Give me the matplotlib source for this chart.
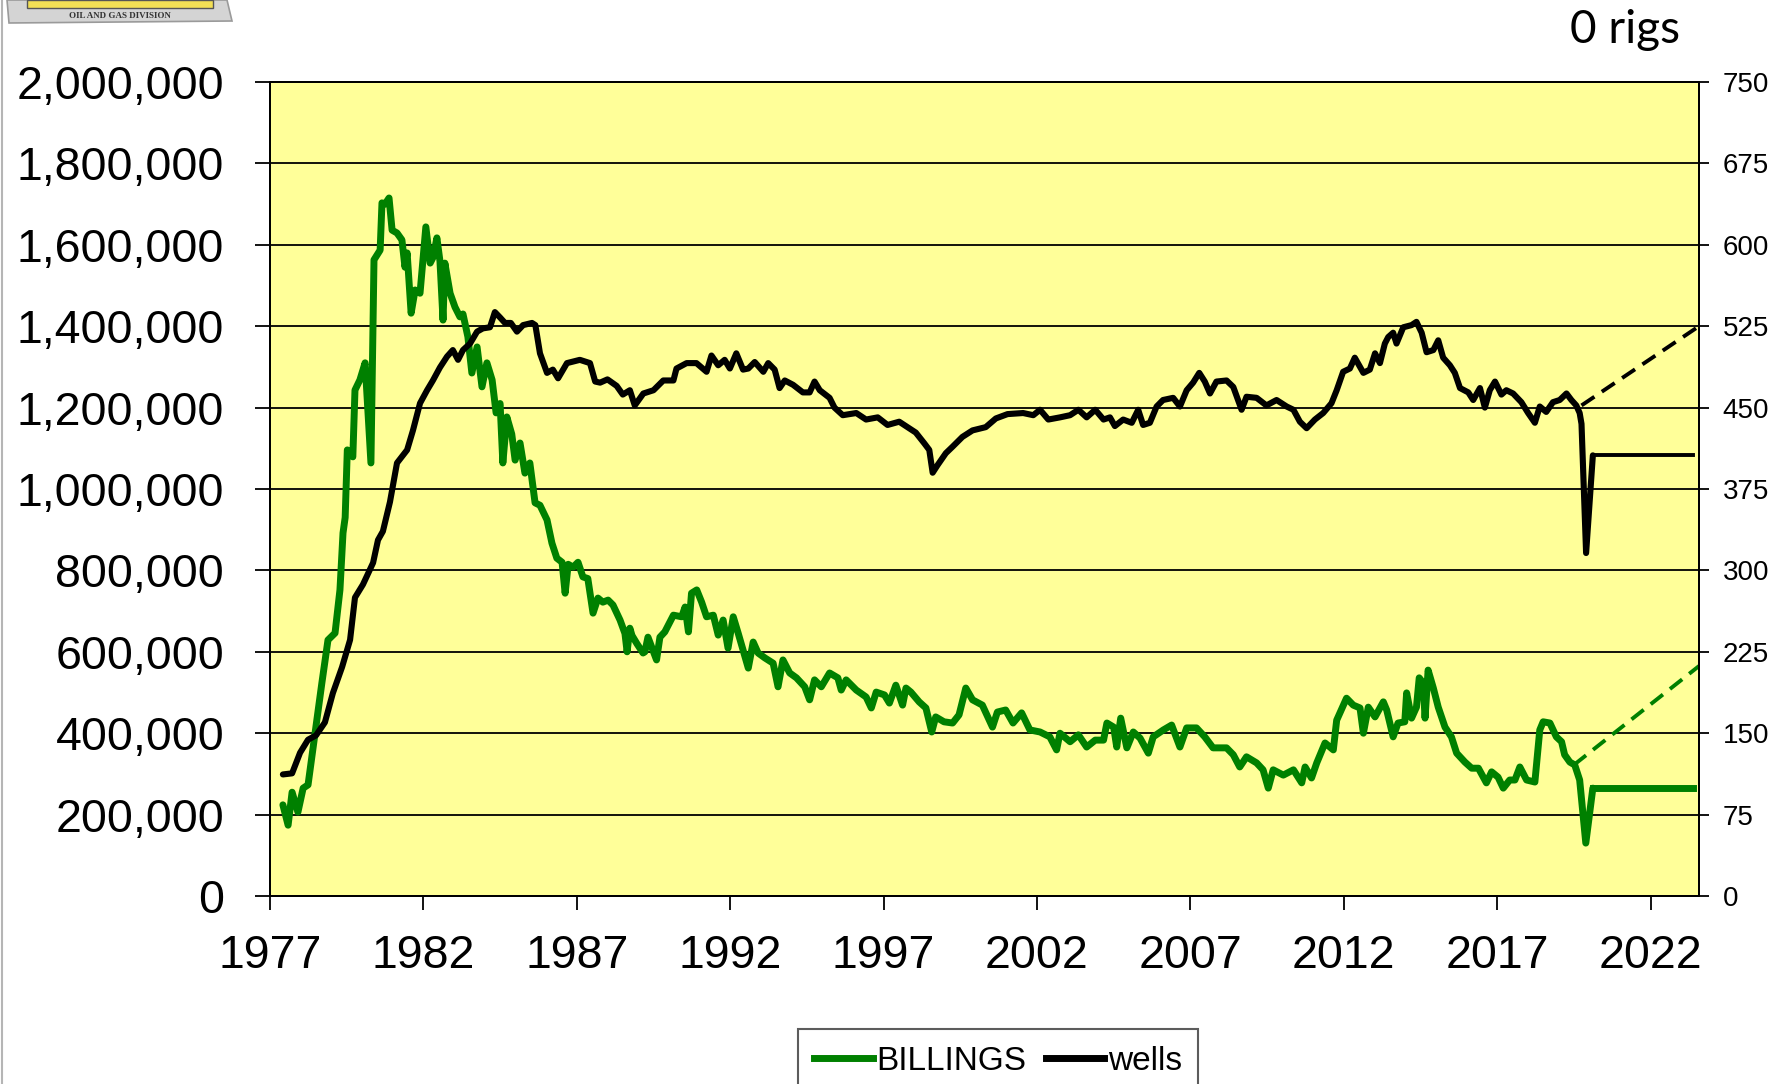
import matplotlib
matplotlib.use('Agg')
import matplotlib.pyplot as plt
from matplotlib.ticker import FuncFormatter, MultipleLocator
from matplotlib.patches import Polygon, Rectangle
from matplotlib.lines import Line2D

# monthly billings (thousands)
bill_years = [1977.42, 1977.59, 1977.72, 1977.91, 1978.08, 1978.24, 1978.47, 1978.69, 1978.89, 1979.12,
              1979.28, 1979.38, 1979.45, 1979.52, 1979.70, 1979.77, 1979.93, 1980.10, 1980.29, 1980.39,
              1980.59, 1980.65, 1980.75, 1980.88, 1980.98, 1981.14, 1981.30, 1981.40, 1981.47, 1981.60,
              1981.73, 1981.89, 1982.08, 1982.22, 1982.32, 1982.44, 1982.54, 1982.64, 1982.70, 1982.87,
              1983.03, 1983.19, 1983.29, 1983.45, 1983.58, 1983.75, 1983.91, 1984.07, 1984.24, 1984.37,
              1984.50, 1984.59, 1984.72, 1984.88, 1984.99, 1985.15, 1985.31, 1985.47, 1985.64, 1985.80,
              1986.03, 1986.19, 1986.35, 1986.52, 1986.62, 1986.72, 1986.88, 1987.04, 1987.20, 1987.36,
              1987.53, 1987.69, 1987.85, 1988.02, 1988.18, 1988.41, 1988.57, 1988.64, 1988.73, 1988.80,
              1988.96, 1989.16, 1989.22, 1989.32, 1989.45, 1989.60, 1989.71, 1989.87, 1990.15, 1990.42,
              1990.53, 1990.64, 1990.74, 1990.91, 1991.07, 1991.23, 1991.45, 1991.61, 1991.77, 1991.93,
              1992.10, 1992.26, 1992.42, 1992.59, 1992.75, 1992.91, 1993.13, 1993.40, 1993.56, 1993.72,
              1993.94, 1994.16, 1994.43, 1994.59, 1994.75, 1994.97, 1995.24, 1995.51, 1995.62, 1995.78,
              1996.11, 1996.43, 1996.60, 1996.76, 1997.03, 1997.19, 1997.40, 1997.62, 1997.73, 1997.89,
              1998.16, 1998.38, 1998.57, 1998.70, 1998.97, 1999.25, 1999.46, 1999.68, 1999.90, 2000.22,
              2000.55, 2000.71, 2000.98, 2001.22, 2001.50, 2001.77, 2002.10, 2002.42, 2002.64, 2002.75,
              2003.08, 2003.35, 2003.62, 2003.90, 2004.17, 2004.28, 2004.50, 2004.60, 2004.73, 2004.93,
              2005.14, 2005.36, 2005.63, 2005.79, 2006.12, 2006.39, 2006.66, 2006.88, 2007.20, 2007.47,
              2007.74, 2008.18, 2008.40, 2008.61, 2008.83, 2009.16, 2009.37, 2009.54, 2009.70, 2010.03,
              2010.36, 2010.63, 2010.74, 2010.95, 2011.12, 2011.39, 2011.66, 2011.77, 2012.09, 2012.31,
              2012.53, 2012.64, 2012.80, 2013.02, 2013.29, 2013.40, 2013.61, 2013.77, 2013.99, 2014.05,
              2014.21, 2014.37, 2014.46, 2014.59, 2014.65, 2014.75, 2014.92, 2015.08, 2015.30, 2015.51,
              2015.68, 2015.95, 2016.17, 2016.39, 2016.65, 2016.82, 2017.03, 2017.20, 2017.41, 2017.58,
              2017.74, 2017.96, 2018.23, 2018.39, 2018.50, 2018.72, 2018.93, 2019.10, 2019.20, 2019.37,
              2019.53, 2019.69, 2019.89, 2020.12]
bill_k = [224, 174, 255, 206, 265, 273, 400, 523, 629, 646,
          752, 892, 930, 1096, 1079, 1243, 1268, 1310, 1064, 1563,
          1587, 1703, 1700, 1715, 1636, 1629, 1612, 1545, 1580, 1432,
          1489, 1481, 1644, 1555, 1570, 1617, 1560, 1415, 1555, 1481,
          1447, 1423, 1430, 1374, 1285, 1349, 1251, 1310, 1268, 1187,
          1210, 1064, 1177, 1135, 1071, 1113, 1039, 1064, 966, 960,
          924, 867, 830, 820, 744, 815, 808, 820, 784, 780,
          695, 732, 722, 727, 715, 678, 645, 600, 658, 640,
          620, 597, 600, 636, 610, 580, 636, 649, 690, 686,
          710, 649, 744, 752, 722, 686, 690, 641, 678, 609,
          686, 646, 604, 560, 624, 597, 585, 572, 514, 580,
          548, 536, 514, 482, 531, 514, 548, 536, 506, 531,
          506, 489, 462, 501, 494, 474, 518, 469, 511, 501,
          477, 462, 403, 440, 428, 425, 445, 511, 482, 469,
          415, 452, 457, 425, 450, 408, 403, 391, 359, 400,
          379, 396, 366, 383, 383, 425, 415, 366, 437, 364,
          403, 388, 351, 391, 408, 420, 366, 413, 413, 391,
          364, 364, 347, 317, 342, 327, 310, 265, 310, 297,
          310, 278, 317, 290, 327, 376, 359, 432, 486, 469,
          462, 400, 464, 440, 477, 457, 391, 425, 428, 499,
          437, 464, 536, 523, 437, 555, 511, 464, 415, 391,
          351, 329, 314, 314, 278, 305, 292, 265, 285, 285,
          317, 285, 280, 408, 428, 425, 391, 379, 347, 329,
          322, 285, 130, 265]

# producing wells, right axis
well_years = [1977.42, 1977.72, 1977.98, 1978.24, 1978.50, 1978.79, 1979.05, 1979.35, 1979.61, 1979.77,
              1980.03, 1980.36, 1980.52, 1980.68, 1980.91, 1981.14, 1981.47, 1981.66, 1981.89, 1982.12,
              1982.31, 1982.54, 1982.77, 1982.96, 1983.13, 1983.29, 1983.52, 1983.75, 1983.94, 1984.17,
              1984.33, 1984.50, 1984.66, 1984.85, 1985.05, 1985.25, 1985.54, 1985.65, 1985.80, 1986.03,
              1986.22, 1986.39, 1986.68, 1987.10, 1987.43, 1987.60, 1987.76, 1988.00, 1988.30, 1988.50,
              1988.73, 1988.89, 1989.17, 1989.50, 1989.82, 1990.15, 1990.25, 1990.58, 1990.90, 1991.23,
              1991.39, 1991.61, 1991.82, 1991.99, 1992.20, 1992.42, 1992.59, 1992.80, 1993.08, 1993.24,
              1993.45, 1993.61, 1993.78, 1994.05, 1994.37, 1994.59, 1994.75, 1994.92, 1995.24, 1995.40,
              1995.67, 1996.11, 1996.43, 1996.81, 1997.13, 1997.51, 1997.78, 1998.05, 1998.33, 1998.49,
              1998.60, 1998.76, 1999.03, 1999.25, 1999.57, 1999.90, 2000.33, 2000.66, 2001.04, 2001.55,
              2001.88, 2002.10, 2002.37, 2002.75, 2003.08, 2003.35, 2003.62, 2003.90, 2004.17, 2004.38,
              2004.54, 2004.81, 2005.09, 2005.30, 2005.46, 2005.68, 2005.90, 2006.11, 2006.44, 2006.66,
              2006.88, 2007.09, 2007.29, 2007.47, 2007.64, 2007.85, 2008.18, 2008.40, 2008.67, 2008.83,
              2009.16, 2009.48, 2009.81, 2010.14, 2010.36, 2010.57, 2010.79, 2011.06, 2011.33, 2011.60,
              2011.77, 2011.98, 2012.20, 2012.36, 2012.64, 2012.85, 2013.02, 2013.18, 2013.34, 2013.45,
              2013.61, 2013.72, 2013.94, 2014.21, 2014.37, 2014.54, 2014.70, 2014.92, 2015.08, 2015.24,
              2015.46, 2015.62, 2015.79, 2016.06, 2016.22, 2016.44, 2016.60, 2016.76, 2016.93, 2017.14,
              2017.30, 2017.52, 2017.79, 2018.01, 2018.23, 2018.39, 2018.60, 2018.82, 2019.04, 2019.26,
              2019.42, 2019.58, 2019.69, 2019.75, 2019.90, 2020.12]
wells = [112, 113, 132, 144, 148, 160, 187, 211, 236, 275,
         287, 307, 328, 336, 363, 399, 411, 429, 454, 466,
         475, 487, 497, 503, 494, 503, 509, 520, 523, 524,
         538, 533, 528, 528, 520, 526, 528, 526, 500, 482,
         485, 477, 491, 494, 491, 474, 473, 476, 470, 462,
         466, 452, 463, 466, 475, 475, 486, 491, 491, 483,
         498, 489, 494, 486, 500, 485, 486, 492, 483, 491,
         485, 468, 475, 471, 464, 464, 474, 466, 459, 450,
         443, 445, 439, 441, 434, 437, 432, 427, 417, 411,
         390, 397, 408, 414, 423, 429, 432, 440, 444, 445,
         443, 448, 439, 441, 443, 448, 441, 448, 439, 441,
         433, 439, 436, 448, 434, 436, 451, 457, 459, 451,
         466, 473, 482, 474, 463, 474, 475, 469, 448, 460,
         459, 452, 457, 451, 448, 437, 431, 439, 445, 454,
         466, 483, 486, 496, 482, 485, 500, 491, 509, 515,
         519, 509, 524, 526, 529, 519, 501, 503, 512, 496,
         489, 482, 468, 464, 457, 468, 450, 466, 474, 462,
         466, 463, 455, 445, 436, 451, 446, 455, 457, 463,
         457, 452, 445, 435, 316, 406]

# latest level held flat to the end of the chart
latest_years = [2020.12, 2023.40]
bill_latest_k = [265, 265]
wells_latest = [406, 406]

# dashed trend lines
proj_bill_years = [2019.50, 2023.58]
proj_bill_k = [322, 565]
proj_well_years = [2019.75, 2023.58]
proj_wells = [452, 525]

x_ticks = list(range(1977, 2023, 5))

font = 'Liberation Sans'
plt.rcParams['font.family'] = [font, 'DejaVu Sans']

W, H = 1783, 1084
fig = plt.figure(figsize=(W / 100, H / 100), dpi=100)
fig.patch.set_facecolor('white')

ax = fig.add_axes([270 / W, 188 / H, 1429 / W, 814 / H])
ax.set_facecolor('#FFFF99')
ax.set_xlim(1977, 2023.58)
ax.set_ylim(0, 2000000)
ax.set_xticks(x_ticks)
ax.yaxis.set_major_locator(MultipleLocator(200000))
ax.yaxis.set_major_formatter(FuncFormatter(lambda v, p: f'{v:,.0f}'))
ax.grid(axis='y', color='black', lw=1.3)
ax.set_axisbelow(True)
ax.tick_params(axis='y', direction='out', length=11, width=1.3, pad=22, labelsize=33.5)
ax.tick_params(axis='x', direction='out', length=10, width=1.3, pad=17, labelsize=33.5)

green = '#008000'
ax.plot(bill_years, [v * 1000 for v in bill_k], color=green, lw=5, solid_joinstyle='round',
        solid_capstyle='round', zorder=3)
ax.plot(latest_years, [v * 1000 for v in bill_latest_k], color=green, lw=5, zorder=3)
ax.plot(proj_bill_years, [v * 1000 for v in proj_bill_k], color=green, lw=2.8, ls=(0, (4, 2.3)), zorder=3)

ax2 = ax.twinx()
ax2.set_ylim(0, 750)
ax2.yaxis.set_major_locator(MultipleLocator(75))
ax2.tick_params(axis='y', direction='out', length=7, width=1.3, pad=10, labelsize=20)
ax2.plot(well_years, wells, color='black', lw=4.4, solid_joinstyle='round',
         solid_capstyle='round', zorder=3)
ax2.plot(latest_years, wells_latest, color='black', lw=2.8, zorder=3)
ax2.plot(proj_well_years, proj_wells, color='black', lw=2.8, ls=(0, (4, 2.3)), zorder=3)

for a in (ax, ax2):
    for s in a.spines.values():
        s.set_linewidth(1.4)
        s.set_color('black')

fig.text(1680 / W, 1 - 30 / H, '0 rigs', ha='right', va='center', fontsize=33, family='Lato')

# cropped logo at top left
lax = fig.add_axes([0, 1 - 24 / H, 240 / W, 24 / H])
lax.set_xlim(0, 240)
lax.set_ylim(24, 0)
lax.axis('off')
lax.add_patch(Polygon([(7, 0), (227, 0), (232, 21), (9, 23)], closed=True,
                      facecolor='#d4d4d4', edgecolor='#9a9a9a', lw=1.2))
lax.add_patch(Rectangle((27, 0), 186, 8, facecolor='#F2DF55', edgecolor='#555555', lw=1))
lax.text(120, 15.5, 'OIL AND GAS DIVISION', ha='center', va='center', fontsize=6.5,
         family='Liberation Serif', weight='bold', color='#333333')

fig.add_artist(Line2D([2 / W, 2 / W], [0, 1], color='#b5b5b5', lw=1.5))

handles = [Line2D([], [], color=green, lw=5), Line2D([], [], color='black', lw=5)]
leg = fig.legend(handles, ['BILLINGS', 'wells'], loc='upper center',
                 bbox_to_anchor=(998 / W, 55 / H), ncol=2, fontsize=24, frameon=True,
                 fancybox=False, edgecolor='#333333', handlelength=1.75, handletextpad=0.1,
                 columnspacing=0.6, borderpad=0.5, borderaxespad=0)
leg.get_frame().set_linewidth(1.5)

fig.savefig('out.png', dpi=100)
